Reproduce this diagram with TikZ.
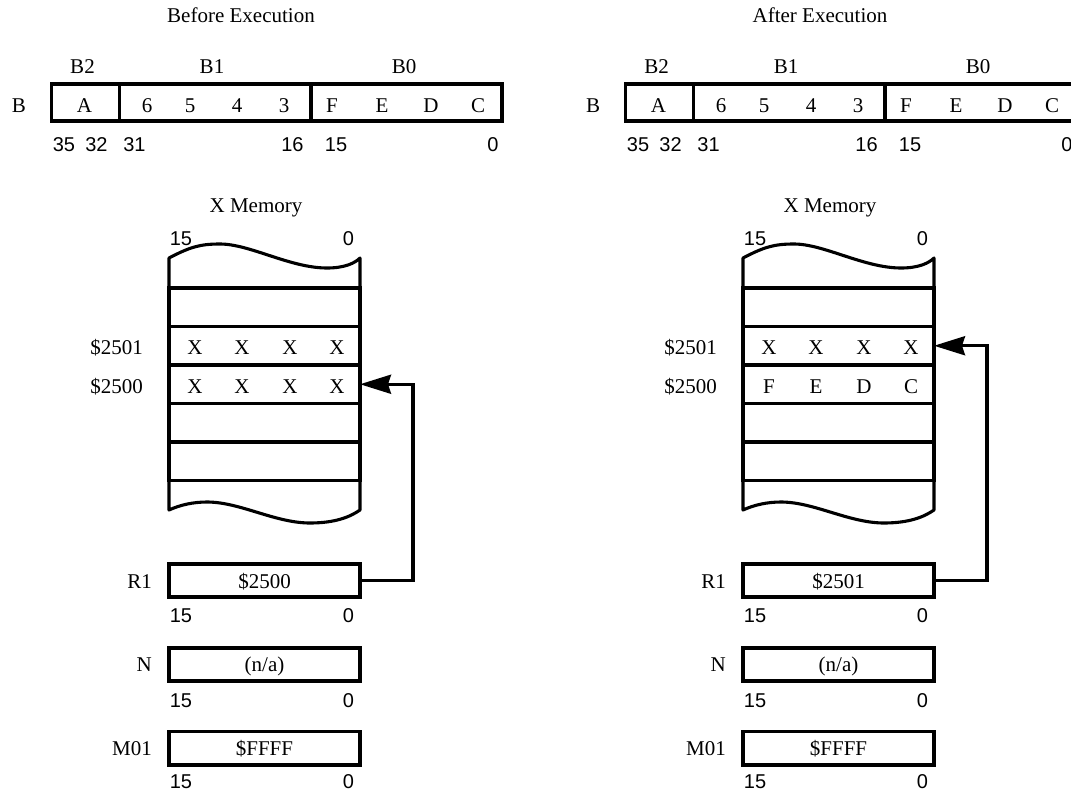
\documentclass[tikz,border=0pt]{standalone}
\usepackage{fontspec}
\setmainfont{Liberation Serif}
\newfontfamily\arialfont{Liberation Sans}
\usetikzlibrary{arrows.meta}
\tikzset{
  ln/.style={line width=3.1pt},
  cell/.style={draw, ln, rectangle, inner sep=0pt, outer sep=0pt, anchor=north west},
  txt/.style={font=\fontsize{21}{21}\selectfont, inner sep=0pt, anchor=base},
  num/.style={font=\arialfont\fontsize{20}{20}\selectfont, inner sep=0pt, anchor=base},
  lbl/.style={txt, anchor=base east},
  ptr/.style={ln, -{Stealth[length=31pt,width=19pt,inset=3pt]}, line join=miter},
  wave/.style={ln, line join=round},
}
\begin{document}
\begin{tikzpicture}[x=1pt,y=-1pt]
\clip (0,0) rectangle (1071,795);
\fill[white] (0,0) rectangle (1071,795);

% ================= BEFORE =================
\node[txt] (t1) at (241,23) {Before Execution};
% register B
\node[txt] (pB) at (19,112) {B};
\node[txt] (pB2) at (82.5,73) {B2};
\node[txt] (pB1) at (212,73) {B1};
\node[txt] (pB0) at (404,73) {B0};
\node[cell, minimum width=68pt, minimum height=37pt] (pb2) at (51.5,84) {};
\node[cell, minimum width=191.5pt, minimum height=37pt] (pb1) at (119.5,84) {};
\node[cell, minimum width=191pt, minimum height=37pt] (pb0) at (311,84) {};
\node[txt] (pA) at (84.5,112) {A};
\node[txt] (p6) at (147,112) {6};
\node[txt] (p5) at (190,112) {5};
\node[txt] (p4) at (237,112) {4};
\node[txt] (p3) at (284,112) {3};
\node[txt] (pF) at (332,112) {F};
\node[txt] (pE) at (382,112) {E};
\node[txt] (pD) at (431,112) {D};
\node[txt] (pC) at (478,112) {C};
\node[num] (pn35) at (64,151) {35};
\node[num] (pn32) at (96.5,151) {32};
\node[num] (pn31) at (134.5,151) {31};
\node[num] (pn16) at (292.5,151) {16};
\node[num] (pn15) at (336,151) {15};
\node[num] (pn0) at (493,151) {0};
% memory
\node[txt] (pxm) at (256,212) {X Memory};
\node[num] (pm15) at (181,245) {15};
\node[num] (pm0) at (348.5,245) {0};
\draw[wave] (169,288) -- (169,258) .. controls (190,247) and (200,244) .. (220,244)
  .. controls (250,244) and (290,268) .. (327,268) .. controls (345,268) and (355,263) .. (360,258) -- (360,288);
\node[cell, minimum width=191pt, minimum height=38.5pt] (pr1) at (169,288) {};
\node[cell, minimum width=191pt, minimum height=38.5pt] (pm2501) at (169,326.5) {};
\node[cell, minimum width=191pt, minimum height=38.5pt] (pm2500) at (169,365) {};
\node[cell, minimum width=191pt, minimum height=38.5pt] (pr4) at (169,403.5) {};
\node[cell, minimum width=191pt, minimum height=38.5pt] (pr5) at (169,442) {};
\draw[wave] (169,480.5) -- (169,510) .. controls (180,505) and (193,502) .. (207,502)
  .. controls (240,502) and (275,523) .. (310,523) .. controls (335,523) and (350,517) .. (360,510) -- (360,480.5);
\node[lbl] (pa1) at (143,354) {\$2501};
\node[lbl] (pa0) at (143,393) {\$2500};
\node[txt] (px11) at (195,354) {X};
\node[txt] (px12) at (242,354) {X};
\node[txt] (px13) at (290,354) {X};
\node[txt] (px14) at (337,354) {X};
\node[txt] (px21) at (195,393) {X};
\node[txt] (px22) at (242,393) {X};
\node[txt] (px23) at (290,393) {X};
\node[txt] (px24) at (337,393) {X};
% registers R1, N, M01
\node[cell, minimum width=191pt, minimum height=33pt] (pR1) at (169,564) {};
\node[txt] (pR1v) at (264.5,588) {\$2500};
\node[lbl] (pR1l) at (152,588) {R1};
\node[num] (pR1a) at (181,622) {15};
\node[num] (pR1b) at (348.5,622) {0};
\node[cell, minimum width=191pt, minimum height=33pt] (pN) at (169,648) {};
\node[txt] (pNv) at (264.5,671.5) {(n/a)};
\node[lbl] (pNl) at (152,671.5) {N};
\node[num] (pNa) at (181,707) {15};
\node[num] (pNb) at (348.5,707) {0};
\node[cell, minimum width=191pt, minimum height=33.5pt] (pM) at (169,731.5) {};
\node[txt] (pMv) at (264.5,755) {\$FFFF};
\node[lbl] (pMl) at (152,755) {M01};
\node[num] (pMa) at (181,788) {15};
\node[num] (pMb) at (348.5,788) {0};
\draw[ptr] (pR1.east) -- ++(53,0) |- (pm2500.east);

% ================= AFTER =================
\begin{scope}[xshift=574pt]
\node[txt] (t2) at (246,23) {After Execution};
\node[txt] (qB) at (19,112) {B};
\node[txt] (qB2) at (82.5,73) {B2};
\node[txt] (qB1) at (212,73) {B1};
\node[txt] (qB0) at (404,73) {B0};
\node[cell, minimum width=68pt, minimum height=37pt] (qb2) at (51.5,84) {};
\node[cell, minimum width=191.5pt, minimum height=37pt] (qb1) at (119.5,84) {};
\node[cell, minimum width=191pt, minimum height=37pt] (qb0) at (311,84) {};
\node[txt] (qA) at (84.5,112) {A};
\node[txt] (q6) at (147,112) {6};
\node[txt] (q5) at (190,112) {5};
\node[txt] (q4) at (237,112) {4};
\node[txt] (q3) at (284,112) {3};
\node[txt] (qF) at (332,112) {F};
\node[txt] (qE) at (382,112) {E};
\node[txt] (qD) at (431,112) {D};
\node[txt] (qC) at (478,112) {C};
\node[num] (qn35) at (64,151) {35};
\node[num] (qn32) at (96.5,151) {32};
\node[num] (qn31) at (134.5,151) {31};
\node[num] (qn16) at (292.5,151) {16};
\node[num] (qn15) at (336,151) {15};
\node[num] (qn0) at (493,151) {0};
\node[txt] (qxm) at (256,212) {X Memory};
\node[num] (qm15) at (181,245) {15};
\node[num] (qm0) at (348.5,245) {0};
\draw[wave] (169,288) -- (169,258) .. controls (190,247) and (200,244) .. (220,244)
  .. controls (250,244) and (290,268) .. (327,268) .. controls (345,268) and (355,263) .. (360,258) -- (360,288);
\node[cell, minimum width=191pt, minimum height=38.5pt] (qr1) at (169,288) {};
\node[cell, minimum width=191pt, minimum height=38.5pt] (qm2501) at (169,326.5) {};
\node[cell, minimum width=191pt, minimum height=38.5pt] (qm2500) at (169,365) {};
\node[cell, minimum width=191pt, minimum height=38.5pt] (qr4) at (169,403.5) {};
\node[cell, minimum width=191pt, minimum height=38.5pt] (qr5) at (169,442) {};
\draw[wave] (169,480.5) -- (169,510) .. controls (180,505) and (193,502) .. (207,502)
  .. controls (240,502) and (275,523) .. (310,523) .. controls (335,523) and (350,517) .. (360,510) -- (360,480.5);
\node[lbl] (qa1) at (143,354) {\$2501};
\node[lbl] (qa0) at (143,393) {\$2500};
\node[txt] (qx11) at (195,354) {X};
\node[txt] (qx12) at (242,354) {X};
\node[txt] (qx13) at (290,354) {X};
\node[txt] (qx14) at (337,354) {X};
\node[txt] (qx21) at (195,393) {F};
\node[txt] (qx22) at (242,393) {E};
\node[txt] (qx23) at (290,393) {D};
\node[txt] (qx24) at (337,393) {C};
\node[cell, minimum width=191pt, minimum height=33pt] (qR1) at (169,564) {};
\node[txt] (qR1v) at (264.5,588) {\$2501};
\node[lbl] (qR1l) at (152,588) {R1};
\node[num] (qR1a) at (181,622) {15};
\node[num] (qR1b) at (348.5,622) {0};
\node[cell, minimum width=191pt, minimum height=33pt] (qN) at (169,648) {};
\node[txt] (qNv) at (264.5,671.5) {(n/a)};
\node[lbl] (qNl) at (152,671.5) {N};
\node[num] (qNa) at (181,707) {15};
\node[num] (qNb) at (348.5,707) {0};
\node[cell, minimum width=191pt, minimum height=33.5pt] (qM) at (169,731.5) {};
\node[txt] (qMv) at (264.5,755) {\$FFFF};
\node[lbl] (qMl) at (152,755) {M01};
\node[num] (qMa) at (181,788) {15};
\node[num] (qMb) at (348.5,788) {0};
\draw[ptr] (qR1.east) -- ++(53,0) |- (qm2501.east);
\end{scope}
\end{tikzpicture}
\end{document}
